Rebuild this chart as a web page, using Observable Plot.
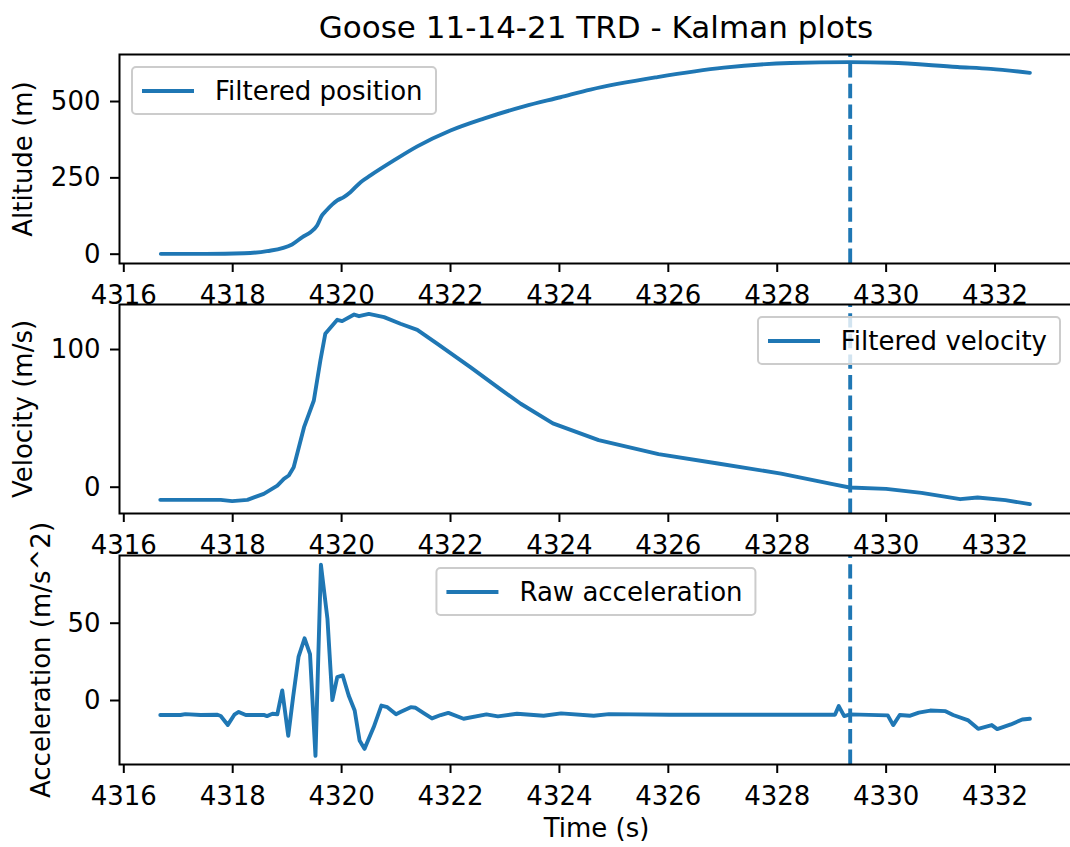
<!DOCTYPE html>
<html>
<head>
<meta charset="utf-8">
<script src="https://cdn.jsdelivr.net/npm/d3@7"></script>
<script src="https://cdn.jsdelivr.net/npm/@observablehq/plot@0.6"></script>
<style>
  html, body { margin: 0; padding: 0; background: #fff; }
  #fig { position: relative; width: 1070px; height: 847px; overflow: hidden; background: #fff;
         font-family: "DejaVu Sans", sans-serif; color: #000; }
  #title { position: absolute; left: 0; width: 1192px; top: 9px; line-height: 36px; text-align: center;
           font-size: 31px; white-space: nowrap; }
  .panel { position: absolute; left: 0; }
  .legend { position: absolute; display: flex; align-items: center; box-sizing: border-box; height: 49px;
            border: 2px solid #cccccc; border-radius: 5px; background: rgba(255,255,255,0.8);
            padding: 0 12px 0 9px; font-size: 26px; white-space: nowrap; line-height: 30px; }
  .legend .swatch { width: 52px; height: 4px; background: #1f77b4; margin-right: 21px; flex: none; }
</style>
</head>
<body>
<div id="fig">
  <div id="title">Goose 11-14-21 TRD - Kalman plots</div>
</div>
<script>
// ---------- data ----------
const chartTitle = "Goose 11-14-21 TRD - Kalman plots";
const xTicks = [4316, 4318, 4320, 4322, 4324, 4326, 4328, 4330, 4332];
const xLimits = [4315.921, 4333.441];
const apogeeTime = 4329.34;

const posTime = [4316.68, 4317.5, 4318.21, 4318.63, 4319.09, 4319.28, 4319.43, 4319.55, 4319.64, 4319.72,
  4319.83, 4319.92, 4320.04, 4320.16, 4320.35, 4320.53, 4320.96, 4321.39, 4322.0, 4322.61, 4323.35,
  4324.02, 4324.57, 4325.8, 4327.02, 4328.24, 4329.33, 4330.08, 4331.31, 4331.92, 4332.64];
const posAlt = [1, 1, 3, 10, 32, 56, 72, 94, 127, 143,
  163, 176, 187, 203, 236, 258, 307, 353, 405, 444, 484,
  514, 539, 580, 611, 626, 629, 627, 613, 607, 594];
const altTicks = [0, 250, 500];
const altLimits = [-30.5, 654];

const velTime = [4316.67, 4317.78, 4317.99, 4318.27, 4318.57, 4318.82, 4318.94, 4319.03, 4319.12, 4319.31,
  4319.4, 4319.49, 4319.61, 4319.7, 4319.92, 4320.01, 4320.23, 4320.32, 4320.5, 4320.78, 4321.08,
  4321.39, 4321.76, 4322.37, 4322.92, 4323.29, 4323.88, 4324.72, 4325.82, 4326.91, 4328.07, 4329.04,
  4329.33, 4330.0, 4330.65, 4331.36, 4331.68, 4332.19, 4332.64];
const velVal = [-9.2, -9.2, -10.1, -9.2, -4.8, 1.2, 6.1, 8.5, 14.5, 43.6,
  53.3, 63, 92, 111.4, 121.6, 120.6, 125.4, 124.2, 125.9, 123.5, 118.7,
  114.3, 104.1, 87.1, 71.1, 60.6, 46.3, 34.2, 24.0, 17.2, 9.9, 2.0,
  -0.2, -1.2, -4.1, -8.7, -7.5, -9.4, -12.3];
const velTicks = [0, 100];
const velLimits = [-19.1, 132.7];

const accTime = [4316.67, 4317.04, 4317.13, 4317.41, 4317.72, 4317.78, 4317.91, 4318.03, 4318.11, 4318.24,
  4318.57, 4318.63, 4318.73, 4318.82, 4318.91, 4319.02, 4319.11, 4319.21, 4319.32, 4319.42,
  4319.52, 4319.62, 4319.74, 4319.83, 4319.92, 4320.02, 4320.13, 4320.24, 4320.33, 4320.42,
  4320.59, 4320.73, 4320.84, 4321.0, 4321.08, 4321.27, 4321.36, 4321.5, 4321.66, 4321.82,
  4321.96, 4322.24, 4322.66, 4322.87, 4323.22, 4323.71, 4324.03, 4324.63, 4324.91, 4326.03,
  4327.5, 4329.06, 4329.13, 4329.23, 4329.34, 4330.03, 4330.13, 4330.25, 4330.43, 4330.6,
  4330.81, 4331.09, 4331.23, 4331.51, 4331.69, 4331.94, 4332.04, 4332.29, 4332.5, 4332.64];
const accVal = [-9.4, -9.4, -8.8, -9.4, -9.2, -10.0, -15.8, -9.2, -7.4, -9.4,
  -9.3, -10.1, -8.6, -8.9, 6.5, -22.8, 2.5, 28.4, 40.2, 30.0,
  -35.8, 87.8, 52.8, 0.3, 15.1, 16.2, 3.2, -6.5, -25.9, -31.3,
  -17.2, -3.3, -4.3, -8.9, -7.5, -4.3, -4.7, -8.0, -11.6, -9.4,
  -8.0, -11.8, -9.0, -10.3, -8.6, -9.9, -8.3, -9.9, -8.8, -9.2,
  -9.2, -9.2, -3.6, -10.1, -9.0, -9.6, -15.9, -9.4, -9.9, -7.8,
  -6.5, -6.9, -9.4, -12.9, -18.3, -15.9, -18.5, -15.5, -12.3, -11.8];
const accTicks = [0, 50];
const accLimits = [-41.4, 93.8];

// ---------- drawing ----------
const BLUE = "#1f77b4";
const FRAME_H = 209;
const fig = document.getElementById("fig");
document.getElementById("title").textContent = chartTitle;

function makePanel({times, values, yLimits, yTicks, yLabel, labelDx, top, marginTop, marginBottom, xLabel, curve}) {
  const data = times.map((t, i) => ({t, v: values[i]}));
  const marks = [
    Plot.line(data, {x: "t", y: "v", stroke: BLUE, strokeWidth: 3.9, curve: curve || "linear"}),
    Plot.ruleX([apogeeTime], {x: d => d, y1: yLimits[0], y2: yLimits[1], stroke: BLUE, strokeWidth: 3.9,
      strokeDasharray: "14.4,6.2"}),
    Plot.frame({stroke: "#000", strokeWidth: 2}),
    Plot.axisX({ticks: xTicks, tickSize: 9, tickPadding: 13, strokeWidth: 2, fontSize: 26, label: null,
      tickFormat: d => String(d)}),
    Plot.axisY({ticks: yTicks, tickSize: 9, tickPadding: 10, strokeWidth: 2, fontSize: 26, label: null,
      tickFormat: d => String(d)}),
    Plot.text([yLabel], {frameAnchor: "left", textAnchor: "middle", lineAnchor: "middle", rotate: -90,
      dx: labelDx, text: d => d, fontSize: 26, fill: "#000"})
  ];
  if (xLabel) {
    marks.push(Plot.text([xLabel], {frameAnchor: "bottom", textAnchor: "middle", lineAnchor: "middle",
      dy: 63.7, text: d => d, fontSize: 26, fill: "#000"}));
  }
  const svg = Plot.plot({
    width: 1073,
    height: marginTop + FRAME_H + marginBottom,
    marginTop, marginBottom, marginLeft: 119, marginRight: 0,
    x: {domain: xLimits},
    y: {domain: yLimits},
    style: {fontFamily: "DejaVu Sans", fontSize: "26px", background: "transparent", overflow: "visible",
      maxWidth: "none", color: "#000"},
    marks
  });
  svg.classList.add("panel");
  svg.style.position = "absolute";
  svg.style.top = top + "px";
  svg.style.left = "0px";
  fig.appendChild(svg);
}

makePanel({times: posTime, values: posAlt, yLimits: altLimits, yTicks: altTicks, yLabel: "Altitude (m)",
  labelDx: -95.8, top: 0, marginTop: 54, marginBottom: 41, curve: "monotone-x"});
makePanel({times: velTime, values: velVal, yLimits: velLimits, yTicks: velTicks, yLabel: "Velocity (m/s)",
  labelDx: -95.8, top: 298, marginTop: 6, marginBottom: 42});
makePanel({times: accTime, values: accVal, yLimits: accLimits, yTicks: accTicks, yLabel: "Acceleration (m/s^2)",
  labelDx: -77.8, top: 549, marginTop: 6, marginBottom: 83, xLabel: "Time (s)"});

function legend(text, css) {
  const d = document.createElement("div");
  d.className = "legend";
  const s = document.createElement("div");
  s.className = "swatch";
  const t = document.createElement("span");
  t.textContent = text;
  d.appendChild(s); d.appendChild(t);
  Object.assign(d.style, css);
  fig.appendChild(d);
}
legend("Filtered position", {left: "131px", top: "66px"});
legend("Filtered velocity", {right: "9px", top: "316px"});
legend("Raw acceleration", {left: "596px", top: "567px", transform: "translateX(-50%)"});
</script>
</body>
</html>
